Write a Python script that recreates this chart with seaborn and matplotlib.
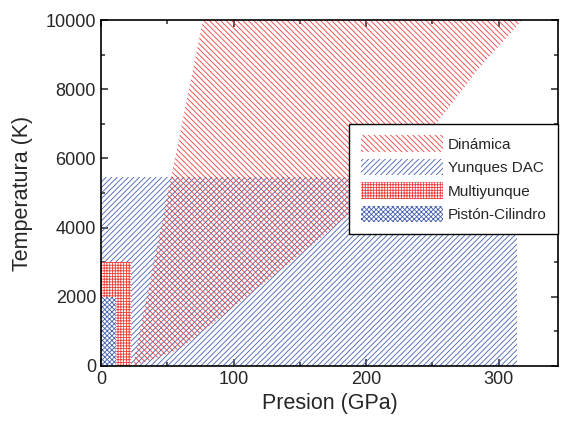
import matplotlib
matplotlib.use('Agg')
import matplotlib.pyplot as plt
import seaborn as sns
from matplotlib.ticker import MultipleLocator

# Regiones de presion (GPa) y temperatura (K)
din_p = [24, 77, 318, 285, 255, 220, 185, 140, 100, 75, 60, 40, 24]
din_t = [0, 10000, 10000, 8600, 7100, 5600, 4300, 2900, 1700, 950, 500, 200, 0]
dac_p = [0, 0, 314, 314]
dac_t = [0, 5450, 5450, 0]
multi_p = [0, 0, 23, 23]
multi_t = [0, 3000, 3000, 0]
piston_p = [0, 0, 11, 11]
piston_t = [0, 2000, 2000, 0]

labels = ['Dinámica', 'Yunques DAC', 'Multiyunque', 'Pistón-Cilindro']
red = '#f03c3c'
blue = '#4460b0'

sns.set_style('ticks')
plt.rcParams['font.family'] = ['Liberation Sans', 'DejaVu Sans']
plt.rcParams['hatch.linewidth'] = 0.6

fig = plt.figure(figsize=(5.61, 4.26), dpi=100)
ax = fig.add_axes([0.18, 0.141, 0.815, 0.812])

h1 = ax.fill(din_p, din_t, facecolor='none', edgecolor=red, hatch='\\\\\\\\\\\\', linewidth=0, label=labels[0], zorder=2)[0]
h2 = ax.fill(dac_p, dac_t, facecolor='none', edgecolor=blue, hatch='//////', linewidth=0, label=labels[1], zorder=1)[0]
h3 = ax.fill(multi_p, multi_t, facecolor='white', edgecolor=red, hatch='++++++', linewidth=0, label=labels[2], zorder=3)[0]
h4 = ax.fill(piston_p, piston_t, facecolor='white', edgecolor=blue, hatch='xxxxxxx', linewidth=0, label=labels[3], zorder=4)[0]

ax.set_xlim(0, 345)
ax.set_ylim(0, 10000)
ax.xaxis.set_major_locator(MultipleLocator(100))
ax.xaxis.set_minor_locator(MultipleLocator(50))
ax.yaxis.set_major_locator(MultipleLocator(2000))
ax.yaxis.set_minor_locator(MultipleLocator(1000))
ax.tick_params(which='both', direction='in', top=True, right=True, labelsize=13, width=1.1)
ax.tick_params(which='major', length=5)
ax.tick_params(which='minor', length=3)
for s in ax.spines.values():
    s.set_linewidth(1.2)
    s.set_color('black')
    s.set_zorder(5)

ax.set_xlabel('Presion (GPa)', fontsize=15.5)
ax.set_ylabel('Temperatura (K)', fontsize=15.5, labelpad=9)

leg = ax.legend(handles=[h1, h2, h3, h4], loc='upper right', bbox_to_anchor=(1.0, 0.70),
                borderaxespad=0, fontsize=11, handlelength=5.4, handleheight=1.3,
                fancybox=False, edgecolor='black', framealpha=1, labelspacing=0.45,
                handletextpad=0.3, borderpad=0.75)
leg.get_frame().set_linewidth(1.0)
leg.set_zorder(6)

fig.savefig('out.png', dpi=100)
plt.close(fig)
